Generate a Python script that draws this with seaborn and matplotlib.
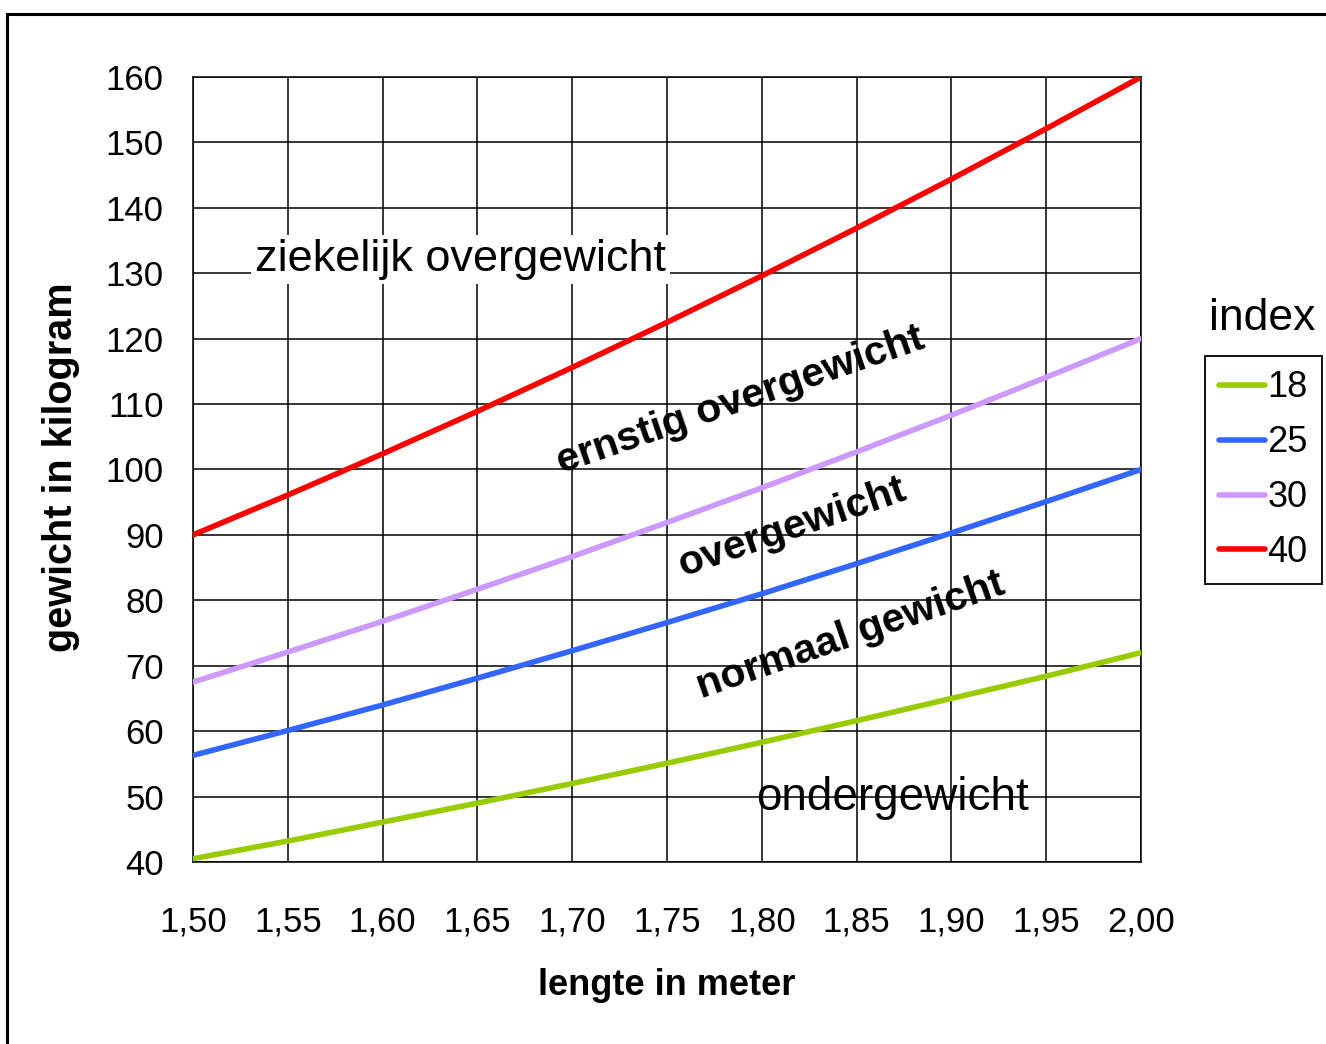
import matplotlib
matplotlib.use("Agg")
import matplotlib.pyplot as plt
from matplotlib.patches import Rectangle
import pandas as pd
import seaborn as sns

# Lengte (m) en gewicht (kg) per BMI-index
lengte = [1.50, 1.55, 1.60, 1.65, 1.70, 1.75, 1.80, 1.85, 1.90, 1.95, 2.00]
gewicht_18 = [40.5, 43.2, 46.1, 49.0, 52.0, 55.1, 58.3, 61.6, 65.0, 68.4, 72.0]
gewicht_25 = [56.3, 60.1, 64.0, 68.1, 72.3, 76.6, 81.0, 85.6, 90.3, 95.1, 100.0]
gewicht_30 = [67.5, 72.1, 76.8, 81.7, 86.7, 91.9, 97.2, 102.7, 108.3, 114.1, 120.0]
gewicht_40 = [90.0, 96.1, 102.4, 108.9, 115.6, 122.5, 129.6, 136.9, 144.4, 152.1, 160.0]
indexen = ["18", "25", "30", "40"]
kleuren = ["#99CC00", "#3366FF", "#CC99FF", "#FF0000"]

x_ticks = lengte
x_labels = ["1,50", "1,55", "1,60", "1,65", "1,70", "1,75", "1,80", "1,85", "1,90", "1,95", "2,00"]
y_ticks = [40, 50, 60, 70, 80, 90, 100, 110, 120, 130, 140, 150, 160]

rows = []
for idx, gew in zip(indexen, [gewicht_18, gewicht_25, gewicht_30, gewicht_40]):
    for h, w in zip(lengte, gew):
        rows.append({"lengte": h, "gewicht": w, "index": idx})
df = pd.DataFrame(rows)

sns.set_style("white")
plt.rcParams["font.family"] = ["Liberation Sans", "DejaVu Sans"]
plt.rcParams["text.color"] = "black"
plt.rcParams["axes.labelcolor"] = "black"
plt.rcParams["xtick.color"] = "black"
plt.rcParams["ytick.color"] = "black"

W, H = 1326, 1044
fig = plt.figure(figsize=(W / 100, H / 100), dpi=100)
ax = fig.add_axes([193 / W, 1 - 862 / H, (1141 - 193) / W, (862 - 77) / H])

sns.lineplot(data=df, x="lengte", y="gewicht", hue="index",
             palette=dict(zip(indexen, kleuren)), linewidth=4.0,
             ax=ax, legend=True, zorder=3)

ax.set_xlim(1.50, 2.00)
ax.set_ylim(40, 160)
ax.set_xticks(x_ticks)
ax.set_xticklabels(x_labels)
ax.set_yticks(y_ticks)
ax.grid(True, color="black", linewidth=1.1)
ax.set_axisbelow(True)
for s in ax.spines.values():
    s.set_color("black")
    s.set_linewidth(1.1)
ax.tick_params(axis="both", direction="out", length=8, width=1.1,
               color="black", labelsize=25, labelcolor="black")
ax.tick_params(axis="y", pad=13)
ax.tick_params(axis="x", pad=23)

ax.set_xlabel("lengte in meter", fontsize=26, fontweight="bold")
ax.set_ylabel("gewicht in kilogram", fontsize=28.5, fontweight="bold")
ax.xaxis.set_label_coords(0.5, -0.135)
ax.yaxis.set_label_coords(-0.119, 0.503)

# Zone labels
ax.text(1.641, 130.4, "ziekelijk overgewicht", fontsize=32.5, ha="center",
        va="baseline", zorder=4,
        bbox=dict(facecolor="white", edgecolor="none", pad=3))
ax.text(1.869, 47.9, "ondergewicht", fontsize=33, ha="center", va="baseline", zorder=4)
rot_kw = dict(fontsize=29.5, fontweight="bold", rotation=19, rotation_mode="anchor",
              ha="center", va="center", zorder=4)
ax.text(1.7885, 110.6, "ernstig overgewicht", **rot_kw)
ax.text(1.8157, 91.2, "overgewicht", **rot_kw)
ax.text(1.847, 74.7, "normaal gewicht", **rot_kw)

# Legend with title above the box
handles, labels = ax.get_legend_handles_labels()
ax.legend(handles, labels, loc="upper left",
          bbox_to_anchor=(1205 / W, 1 - 356 / H), bbox_transform=fig.transFigure,
          borderaxespad=0, fontsize=26, frameon=True, fancybox=False,
          edgecolor="black", framealpha=1, handlelength=1.25,
          handletextpad=0.08, labelspacing=0.55, borderpad=0.4)
ax.get_legend().get_frame().set_linewidth(1.3)
fig.text(1262 / W, 1 - 318 / H, "index", fontsize=32, ha="center", va="center")

# Outer chart frame
fig.patches.append(Rectangle((7 / W, -0.1), 1.2, 1 - 14 / H + 0.1,
                             transform=fig.transFigure, fill=False,
                             edgecolor="black", linewidth=2.2, clip_on=False))

fig.savefig("out.png", dpi=100)
